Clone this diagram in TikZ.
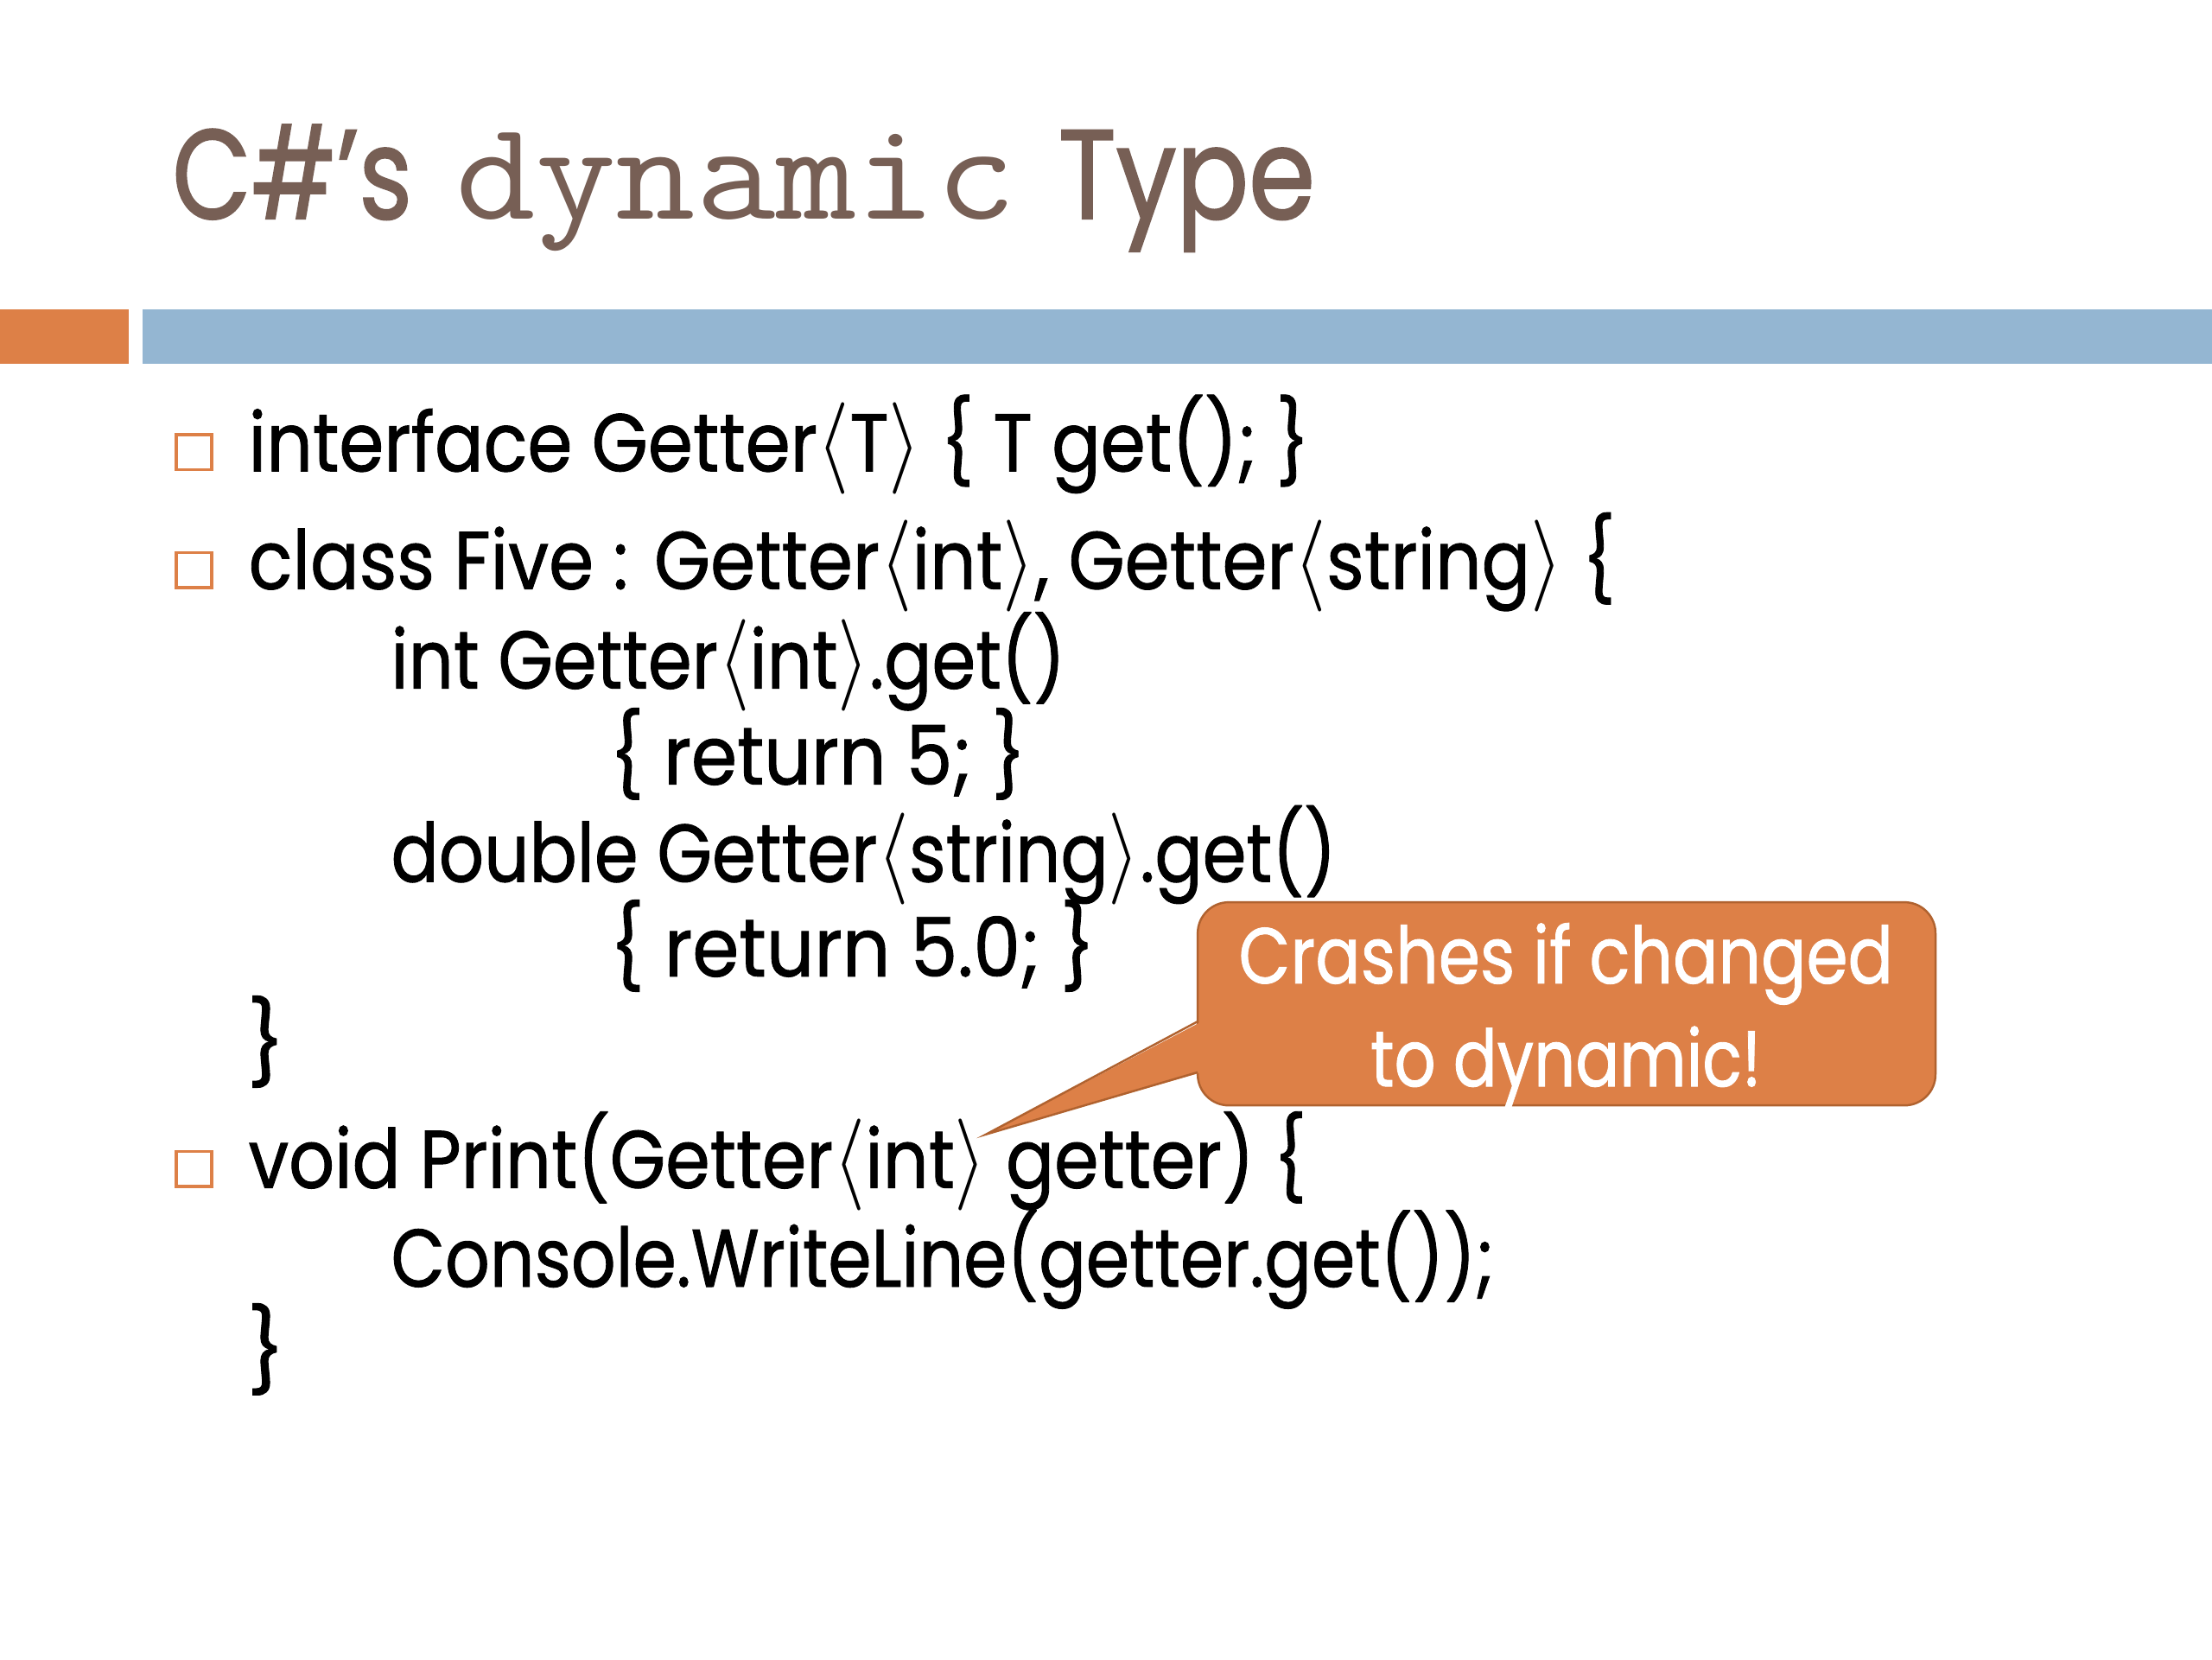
\documentclass[tikz,border=0pt]{standalone}
\usepackage{fix-cm}
\usepackage{graphicx}
\usepackage{fontspec}
\usetikzlibrary{calc}
\setmainfont{Poppins}
\newfontfamily\bodyfont{Poppins}[FakeBold=1]
\newfontfamily\headfont{Poppins}[FakeBold=1.5]
\definecolor{accorange}{HTML}{DD8047}
\definecolor{accblue}{HTML}{94B6D2}
\definecolor{titlebrown}{HTML}{775F55}
\definecolor{callborder}{HTML}{B0622F}
\newlength\fitlen
\newsavebox\fitbox
\newcommand{\fitto}[2]{\sbox\fitbox{#2}\setlength\fitlen{\wd\fitbox}\pgfmathsetmacro\fitsx{#1/\fitlen}\scalebox{\fitsx}[1]{\usebox\fitbox}}
\newcommand{\lab}{\scalebox{1.15}[1.12]{$\langle$}}
\newcommand{\rab}{\scalebox{1.15}[1.12]{$\rangle$}}
\tikzset{
  titletxt/.style={inner sep=0pt, anchor=base west, text=titlebrown, font=\headfont\fontsize{90}{100}\selectfont},
  monotxt/.style={inner sep=0pt, anchor=base west, text=titlebrown, font=\ttfamily\fontsize{100}{110}\selectfont},
  codetxt/.style={inner sep=0pt, anchor=base west, text=black, font=\bodyfont\fontsize{58}{68}\selectfont},
  bulletbox/.style={draw=accorange, line width=2pt, fill=white, minimum size=25pt, inner sep=0pt},
  callbox/.style={draw=callborder, line width=1.5pt, fill=accorange, rounded corners=22pt,
    minimum width=523pt, minimum height=144pt, inner sep=0pt},
  calltxt/.style={inner sep=0pt, anchor=base, text=white, font=\bodyfont\fontsize{56}{66}\selectfont},
}
\begin{document}
\begin{tikzpicture}[x=1pt,y=-1pt]
\useasboundingbox (0,0) rectangle (1568,1176);
\fill[white] (0,0) rectangle (1568,1176);
% title
\node[titletxt] (t1) at (122,155) {\fitto{170}{C\#’s}};
\node[monotxt] (t2) at (323,155) {\fitto{397}{dynamic}};
\node[titletxt] (t3) at (750,155) {\fitto{182}{Type}};
% bars
\fill[accorange] (0,219) rectangle (91,258);
\fill[accblue] (101,219) rectangle (1568,258);
% bullets
\node[bulletbox] (b1) at (137.5,320.5) {};
\node[bulletbox] (b2) at (137.5,404) {};
\node[bulletbox] (b3) at (137.5,828.5) {};
% code lines
\node[codetxt] (l1) at (176,334) {\fitto{752}{interface Getter\lab T\rab{} \{ T get(); \}}};
\node[codetxt] (l2) at (176,417.5) {\fitto{969}{class Five : Getter\lab int\rab, Getter\lab string\rab{} \{}};
\node[codetxt] (l3) at (277,488) {\fitto{478}{int Getter\lab int\rab.get()}};
\node[codetxt] (l4) at (432,556) {\fitto{295}{\{ return 5; \}}};
\node[codetxt] (l5) at (277,625) {\fitto{670}{double Getter\lab string\rab.get()}};
\node[codetxt] (l6) at (432,692) {\fitto{344}{\{ return 5.0; \}}};
\node[codetxt] (l7) at (175,760) {\}};
\node[codetxt] (l8) at (176,842) {\fitto{750}{void Print(Getter\lab int\rab{} getter) \{}};
\node[codetxt] (l9) at (277,912) {\fitto{782}{Console.WriteLine(getter.get());}};
\node[codetxt] (l10) at (175,978) {\}};
% callout
\node[callbox] (call) at (1110.5,711.5) {};
\coordinate (tip) at (699,804);
\coordinate (tailtop) at (849,724);
\coordinate (tailbot) at (849,760);
\fill[accorange] ($(tailtop)+(3,0)$) -- (tip) -- ($(tailbot)+(3,0)$) -- cycle;
\draw[callborder, line width=1.5pt, line join=miter] (tailtop) -- (tip) -- (tailbot);
\node[calltxt] (c1) at (1110,697) {\fitto{464}{Crashes if changed}};
\node[calltxt] (c2) at (1110,770) {\fitto{277}{to dynamic!}};
\end{tikzpicture}
\end{document}
